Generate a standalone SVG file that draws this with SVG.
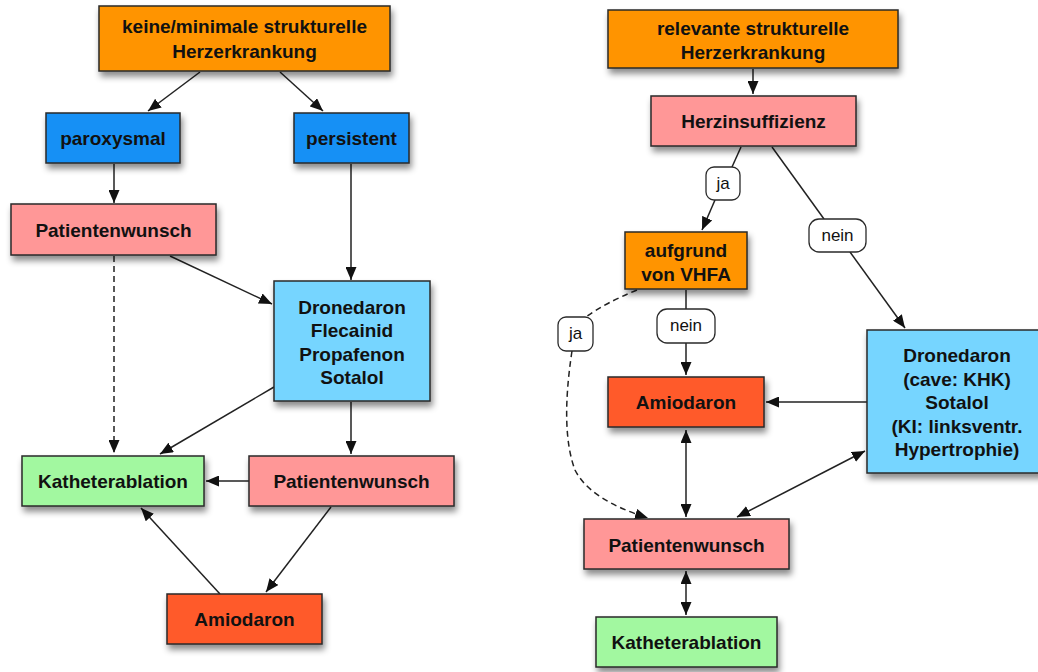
<svg xmlns="http://www.w3.org/2000/svg" width="1038" height="672" viewBox="0 0 1038 672">
  <style>
    .box { stroke: #2a2a2a; stroke-width: 1.5; filter: url(#shadow); }
    .t { font-family: "Liberation Sans", Arial, sans-serif; font-weight: bold; font-size: 19px; fill: #111; text-anchor: middle; }
    .lbl { font-family: "Liberation Sans", Arial, sans-serif; font-size: 17px; fill: #111; text-anchor: middle; }
    .lblbox { fill: #fff; stroke: #2a2a2a; stroke-width: 1.3; }
    .edge { fill: none; stroke: #222; stroke-width: 1.5; }
    .dash { stroke-dasharray: 6 4; }
    .orange { fill: #FF9400; }
    .blue { fill: #1290F5; }
    .lightblue { fill: #76D5FF; }
    .pink { fill: #FF9797; }
    .green { fill: #A2F8A0; }
    .red { fill: #FF5A2A; }
  </style>
  <defs>
    <filter id="shadow" x="-20%" y="-20%" width="140%" height="160%">
      <feDropShadow dx="2" dy="5" stdDeviation="3" flood-color="#000" flood-opacity="0.45"/>
    </filter>
    <marker id="arr" viewBox="0 0 13 11" refX="13" refY="5.5" markerWidth="13" markerHeight="11" markerUnits="userSpaceOnUse" orient="auto-start-reverse">
      <path d="M0,0 L13,5.5 L0,11 z" fill="#111"/>
    </marker>
  </defs>

  <rect width="1038" height="672" fill="#fff"/>

  <!-- connectors -->
  <g id="connectors">
    <!-- left tree -->
    <line class="edge" x1="200" y1="72" x2="148" y2="111" marker-end="url(#arr)"/>
    <line class="edge" x1="280" y1="72" x2="323" y2="111" marker-end="url(#arr)"/>
    <line class="edge" x1="114" y1="164" x2="114" y2="203" marker-end="url(#arr)"/>
    <line class="edge" x1="351" y1="164" x2="351" y2="280" marker-end="url(#arr)"/>
    <line class="edge" x1="170" y1="256" x2="272" y2="304" marker-end="url(#arr)"/>
    <line class="edge dash" x1="114" y1="256" x2="114" y2="453" marker-end="url(#arr)"/>
    <line class="edge" x1="274" y1="387" x2="160" y2="454" marker-end="url(#arr)"/>
    <line class="edge" x1="351" y1="402" x2="351" y2="454" marker-end="url(#arr)"/>
    <line class="edge" x1="249" y1="481" x2="206" y2="481" marker-end="url(#arr)"/>
    <line class="edge" x1="331" y1="507" x2="266" y2="592" marker-end="url(#arr)"/>
    <line class="edge" x1="220" y1="594" x2="141" y2="508" marker-end="url(#arr)"/>

    <!-- right tree -->
    <line class="edge" x1="753" y1="69" x2="753" y2="94" marker-end="url(#arr)"/>
    <line class="edge" x1="741" y1="147" x2="732" y2="167"/>
    <line class="edge" x1="715" y1="200" x2="702" y2="230" marker-end="url(#arr)"/>
    <line class="edge" x1="772" y1="147" x2="824" y2="219"/>
    <line class="edge" x1="850" y1="252" x2="905" y2="328" marker-end="url(#arr)"/>
    <line class="edge" x1="686" y1="290" x2="686" y2="309"/>
    <line class="edge" x1="686" y1="343" x2="686" y2="375" marker-end="url(#arr)"/>
    <line class="edge" x1="867" y1="402" x2="766" y2="402" marker-end="url(#arr)"/>
    <line class="edge" x1="686" y1="430" x2="686" y2="517" marker-start="url(#arr)" marker-end="url(#arr)"/>
    <line class="edge" x1="865" y1="451" x2="737" y2="517" marker-start="url(#arr)" marker-end="url(#arr)"/>
    <line class="edge" x1="686" y1="571" x2="686" y2="615" marker-start="url(#arr)" marker-end="url(#arr)"/>
    <path class="edge dash" d="M637,290 Q605,303 586,317"/>
    <path class="edge dash" d="M572,351 Q560,430 575,470 Q590,500 648,518" marker-end="url(#arr)"/>
  </g>

  <!-- left: no / minimal structural heart disease -->
  <g id="n-keine">
    <rect class="box orange" x="99" y="6" width="291" height="65"/>
    <text class="t" x="244.5" y="33">keine/minimale strukturelle</text>
    <text class="t" x="244.5" y="58">Herzerkrankung</text>
  </g>
  <g id="n-paroxysmal">
    <rect class="box blue" x="46" y="113" width="134" height="50"/>
    <text class="t" x="113" y="145">paroxysmal</text>
  </g>
  <g id="n-persistent">
    <rect class="box blue" x="294" y="113" width="115" height="50"/>
    <text class="t" x="351.5" y="145">persistent</text>
  </g>
  <g id="n-wunsch1">
    <rect class="box pink" x="11" y="204" width="205" height="51"/>
    <text class="t" x="113.5" y="237">Patientenwunsch</text>
  </g>
  <g id="n-drone1">
    <rect class="box lightblue" x="274" y="281" width="156" height="120"/>
    <text class="t" x="352" y="314">Dronedaron</text>
    <text class="t" x="352" y="337">Flecainid</text>
    <text class="t" x="352" y="361">Propafenon</text>
    <text class="t" x="352" y="384">Sotalol</text>
  </g>
  <g id="n-kath1">
    <rect class="box green" x="22" y="456" width="182" height="50"/>
    <text class="t" x="113" y="488">Katheterablation</text>
  </g>
  <g id="n-wunsch2">
    <rect class="box pink" x="249" y="456" width="205" height="50"/>
    <text class="t" x="351.5" y="488">Patientenwunsch</text>
  </g>
  <g id="n-amio1">
    <rect class="box red" x="167" y="594" width="155" height="50"/>
    <text class="t" x="244.5" y="626">Amiodaron</text>
  </g>

  <!-- right: relevant structural heart disease -->
  <g id="n-relevant">
    <rect class="box orange" x="608" y="10" width="290" height="58"/>
    <text class="t" x="753" y="35">relevante strukturelle</text>
    <text class="t" x="753" y="59">Herzerkrankung</text>
  </g>
  <g id="n-hi">
    <rect class="box pink" x="651" y="96" width="205" height="50"/>
    <text class="t" x="753.5" y="128">Herzinsuffizienz</text>
  </g>
  <g id="l-ja1">
    <rect class="lblbox" x="706" y="167" width="34" height="33" rx="8"/>
    <text class="lbl" x="723" y="189">ja</text>
  </g>
  <g id="l-nein1">
    <rect class="lblbox" x="809" y="219" width="57" height="33" rx="10"/>
    <text class="lbl" x="837.5" y="241">nein</text>
  </g>
  <g id="n-vhfa">
    <rect class="box orange" x="625" y="232" width="122" height="57"/>
    <text class="t" x="686" y="257">aufgrund</text>
    <text class="t" x="686" y="281">von VHFA</text>
  </g>
  <g id="l-ja2">
    <rect class="lblbox" x="558" y="317" width="35" height="34" rx="8"/>
    <text class="lbl" x="575.5" y="339">ja</text>
  </g>
  <g id="l-nein2">
    <rect class="lblbox" x="657" y="309" width="58" height="34" rx="10"/>
    <text class="lbl" x="686" y="331">nein</text>
  </g>
  <g id="n-drone2">
    <rect class="box lightblue" x="867" y="330" width="175" height="143"/>
    <text class="t" x="957" y="362">Dronedaron</text>
    <text class="t" x="957" y="386">(cave: KHK)</text>
    <text class="t" x="957" y="409">Sotalol</text>
    <text class="t" x="957" y="433">(KI: linksventr.</text>
    <text class="t" x="957" y="456">Hypertrophie)</text>
  </g>
  <g id="n-amio2">
    <rect class="box red" x="608" y="377" width="156" height="50"/>
    <text class="t" x="686" y="409">Amiodaron</text>
  </g>
  <g id="n-wunsch3">
    <rect class="box pink" x="584" y="519" width="205" height="50"/>
    <text class="t" x="686.5" y="552">Patientenwunsch</text>
  </g>
  <g id="n-kath2">
    <rect class="box green" x="596" y="617" width="181" height="50"/>
    <text class="t" x="686.5" y="649">Katheterablation</text>
  </g>
</svg>
